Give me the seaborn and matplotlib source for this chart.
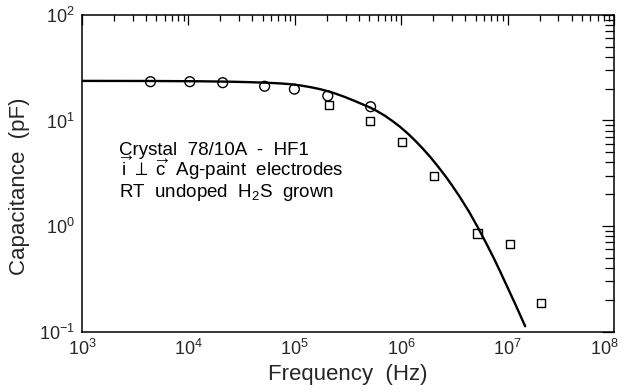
import matplotlib
matplotlib.use("Agg")
import matplotlib.pyplot as plt
import matplotlib.transforms as mtrans
import seaborn as sns
import pandas as pd
from matplotlib.ticker import LogLocator, NullFormatter

circle_freq = [4.4e3, 1.03e4, 2.1e4, 5.2e4, 9.9e4, 2.04e5, 5.15e5]
circle_cap = [23.3, 23.3, 22.8, 21.1, 19.8, 17.1, 13.5]

square_freq = [2.08e5, 5.1e5, 1.01e6, 2.05e6, 5.2e6, 1.05e7, 2.06e7]
square_cap = [14.1, 9.9, 6.2, 3.0, 0.85, 0.68, 0.185]

# Fitted curve
curve_freq = [1.00e3, 4.35e3, 1.285e4, 2.46e4, 3.79e4, 5.25e4, 7.26e4, 9.02e4,
              1.12e5, 1.39e5, 1.73e5, 2.05e5, 2.39e5, 2.90e5, 3.45e5, 4.19e5,
              5.09e5, 6.05e5, 7.05e5, 8.38e5, 9.75e5, 1.16e6, 1.35e6, 1.57e6,
              1.87e6, 2.22e6, 2.58e6, 3.00e6, 3.57e6, 4.34e6, 5.27e6, 6.27e6,
              7.30e6, 8.49e6, 9.87e6, 1.20e7, 1.46e7]
curve_cap = [23.71, 23.66, 23.51, 23.30, 23.05, 22.80, 22.45, 22.07,
             21.50, 20.72, 19.79, 18.90, 18.02, 16.80, 15.67, 14.43,
             13.28, 12.12, 11.06, 9.78, 8.70, 7.47, 6.45, 5.50,
             4.52, 3.65, 3.00, 2.43, 1.87, 1.363, 0.962, 0.690,
             0.511, 0.372, 0.268, 0.175, 0.1125]

annotation_lines = [
    "Crystal  78/10A  -  HF1",
    r"$\overrightarrow{\mathrm{i}}$ $\perp$ $\overrightarrow{\mathrm{c}}$  Ag-paint  electrodes",
    r"RT  undoped  H$_2$S  grown",
]

sns.set_style("white")
plt.rcParams["font.family"] = ["Liberation Sans", "DejaVu Sans"]
plt.rcParams["mathtext.fontset"] = "custom"
plt.rcParams["mathtext.rm"] = "Liberation Sans"
plt.rcParams["mathtext.it"] = "Liberation Sans:italic"
plt.rcParams["mathtext.default"] = "regular"

curve_df = pd.DataFrame({"freq": curve_freq, "cap": curve_cap})
circle_df = pd.DataFrame({"freq": circle_freq, "cap": circle_cap})
square_df = pd.DataFrame({"freq": square_freq, "cap": square_cap})

fig = plt.figure(figsize=(6.26, 3.92), dpi=100)
ax = fig.add_axes([0.131, 0.154, 0.850, 0.808])

sns.lineplot(data=curve_df, x="freq", y="cap", color="black", linewidth=1.7,
             sort=False, estimator=None, ax=ax)
sns.scatterplot(data=circle_df, x="freq", y="cap", marker="o", s=50,
                facecolor="none", edgecolor="black", linewidth=1.0, ax=ax, zorder=3)
sns.scatterplot(data=square_df, x="freq", y="cap", marker="s", s=34,
                facecolor="none", edgecolor="black", linewidth=1.0, ax=ax, zorder=3)

ax.set_xscale("log")
ax.set_yscale("log")
ax.set_xlim(1e3, 1e8)
ax.set_ylim(1e-1, 1e2)

ax.xaxis.set_major_locator(LogLocator(base=10, numticks=10))
ax.yaxis.set_major_locator(LogLocator(base=10, numticks=10))
ax.xaxis.set_minor_locator(LogLocator(base=10, subs=range(2, 10), numticks=20))
ax.yaxis.set_minor_locator(LogLocator(base=10, subs=range(2, 10), numticks=20))
ax.xaxis.set_minor_formatter(NullFormatter())
ax.yaxis.set_minor_formatter(NullFormatter())

ax.tick_params(which="both", direction="in", top=True, right=True,
               color="black", width=0.9, labelsize=13)
ax.tick_params(which="major", length=7, pad=5)
ax.tick_params(which="minor", length=4.5)
ax.tick_params(axis="y", which="major", length=9)
ax.tick_params(axis="y", which="minor", length=6.5)

for side in ax.spines.values():
    side.set_color("black")
    side.set_linewidth(1.1)

ax.set_xlabel("Frequency  (Hz)", fontsize=16, labelpad=4)
ax.set_ylabel("Capacitance  (pF)", fontsize=16)
ax.yaxis.set_label_coords(-0.098, 0.46)

text_y = [0.557, 0.491, 0.426]
for line, ty in zip(annotation_lines, text_y):
    ax.text(0.070, ty, line, transform=ax.transAxes,
            fontsize=13.5, color="black", va="baseline", ha="left")

# nudge the last x tick label (10^8) so it stays inside the canvas
fig.canvas.draw()
for tick in ax.xaxis.get_major_ticks():
    if abs(tick.get_loc() - 1e8) < 1:
        tick.label1.set_transform(tick.label1.get_transform()
                                  + mtrans.ScaledTranslation(-7 / 72, 0, fig.dpi_scale_trans))

fig.savefig("out.png", dpi=100)
